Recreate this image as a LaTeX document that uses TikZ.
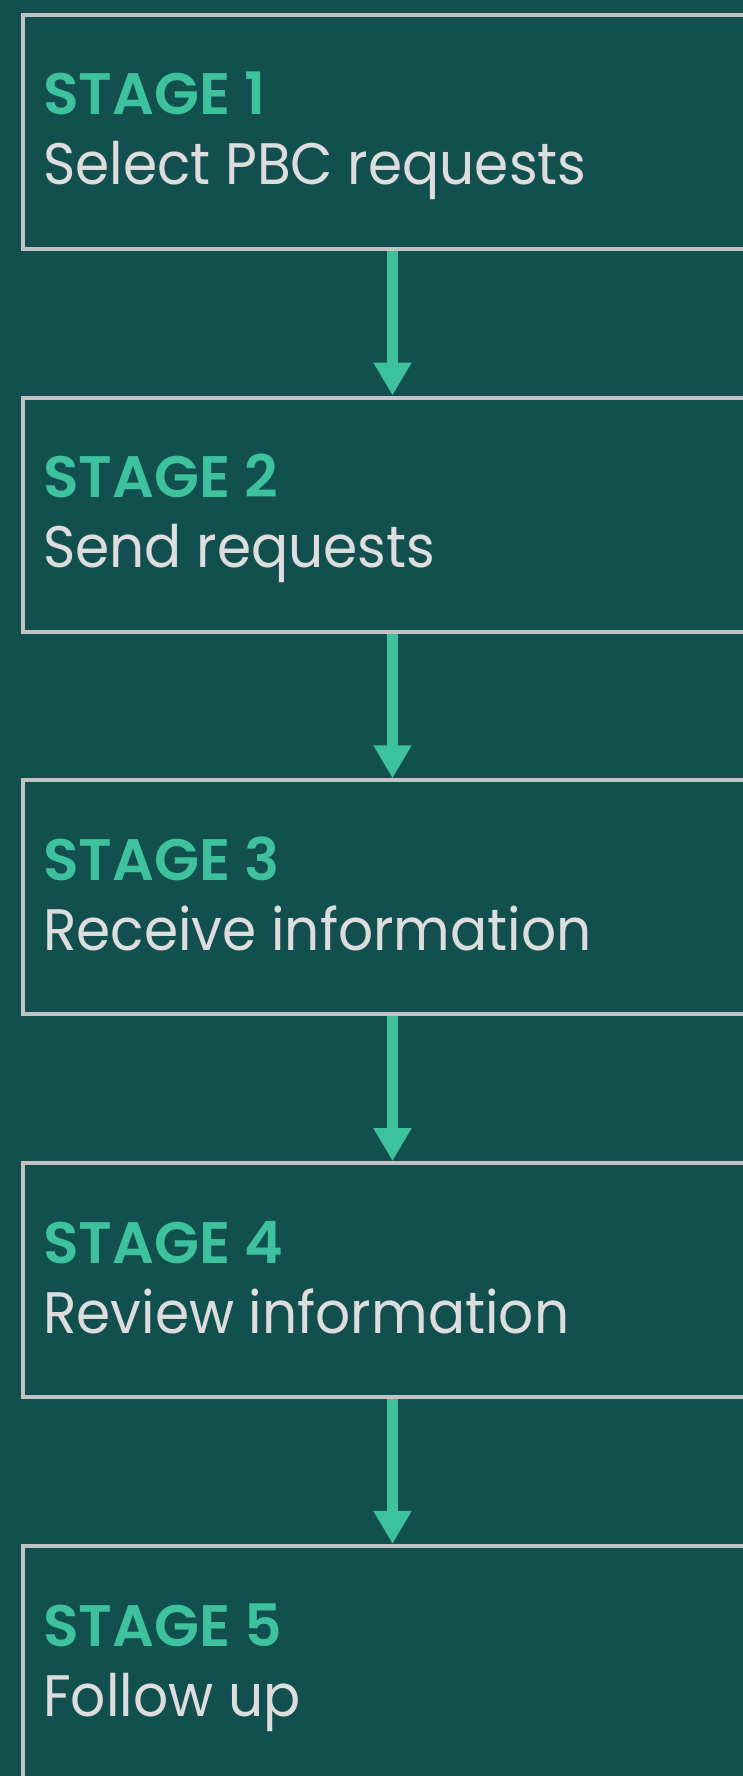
\documentclass[tikz,border=0pt]{standalone}
\usepackage{fontspec}
\setmainfont{Poppins}
\newfontfamily\semib{Poppins SemiBold}
\usetikzlibrary{arrows.meta}
\definecolor{bgc}{HTML}{124F4F}
\definecolor{boxline}{HTML}{C2C2C2}
\definecolor{stagec}{HTML}{3DC29D}
\definecolor{desc}{HTML}{DDDDDD}
\tikzset{
  stagebox/.style={draw=boxline, line width=4pt, rectangle, anchor=north west,
    minimum width=780pt, minimum height=234pt, inner sep=0pt},
  stagelabel/.style={anchor=base west, inner sep=0pt, text=stagec,
    font=\fontsize{58.5}{60}\semib},
  desclabel/.style={anchor=base west, inner sep=0pt, text=desc,
    xscale=0.94, transform shape,
    font=\fontsize{58.5}{60}\selectfont},
  flow/.style={draw=stagec, line width=11.7pt,
    -{Triangle[width=36pt,length=33pt]}},
}
\begin{document}
\begin{tikzpicture}[x=1pt,y=-1pt]
\useasboundingbox (0,0) rectangle (743,1776);
\fill[bgc] (0,0) rectangle (743,1776);
\clip (0,0) rectangle (743,1776);
\foreach \i/\lab/\txt in {1/STAGE 1/Select PBC requests,2/STAGE 2/Send requests,3/STAGE 3/Receive information,4/STAGE 4/Review information,5/STAGE 5/Follow up}{
  \pgfmathsetmacro{\top}{12.7+382.8*(\i-1)}
  \node[stagebox] (b\i) at (21,\top) {};
  \node[stagelabel] (s\i) at (43,\top+102.3) {\lab};
  \node[desclabel] (d\i) at (43,\top+172.3) {\txt};
}
\coordinate (ax) at (392.5,0);
\foreach \a/\b in {1/2,2/3,3/4,4/5}{
  \draw[flow] (b\a.south -| ax) -- (b\b.north -| ax);
}
\end{tikzpicture}
\end{document}
